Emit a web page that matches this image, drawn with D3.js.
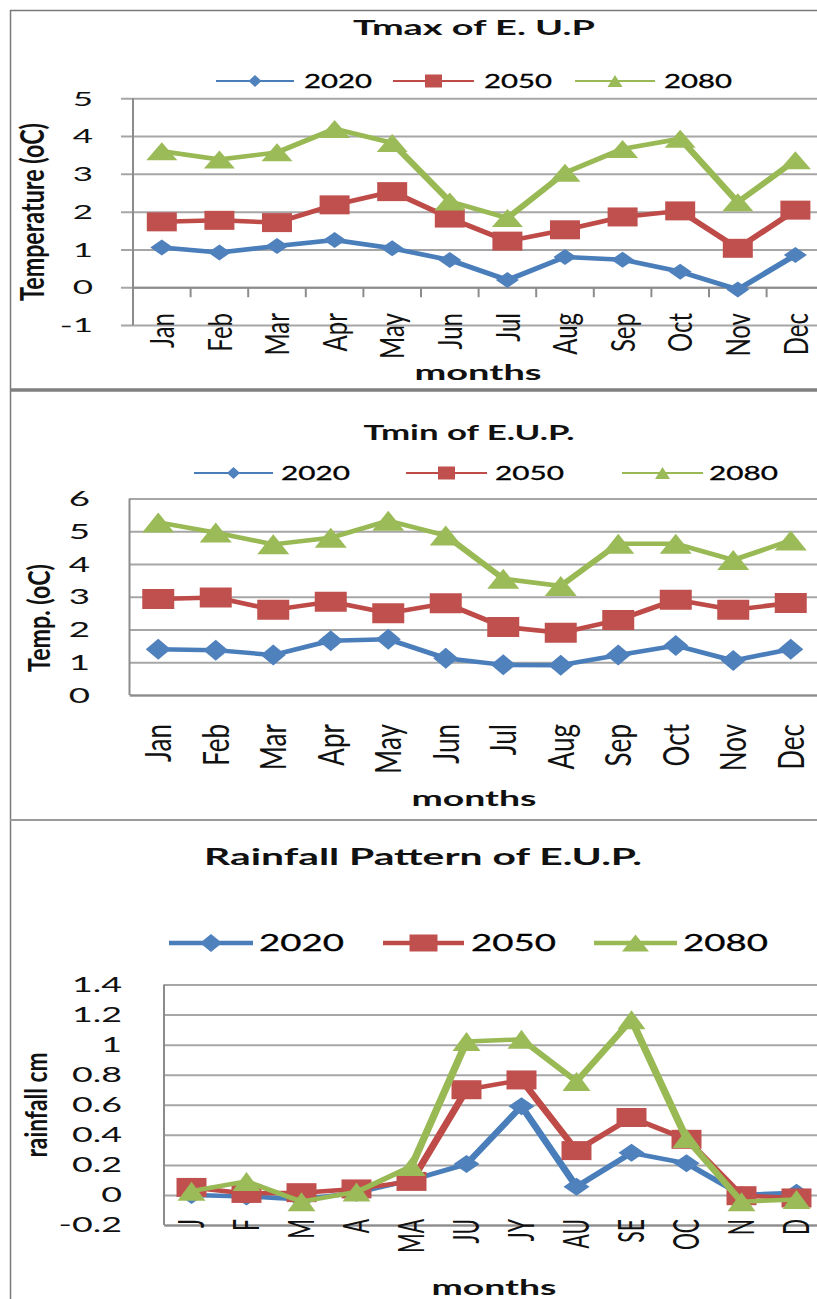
<!DOCTYPE html>
<html><head><meta charset="utf-8">
<script src="https://cdn.jsdelivr.net/npm/d3@7"></script>
<style>html,body{margin:0;padding:0;background:#fff;}svg{display:block;}</style>
</head><body>
<svg id="c" width="817" height="1299"></svg>
<script>
// ---------- DATA ----------
const months = ["Jan","Feb","Mar","Apr","May","Jun","Jul","Aug","Sep","Oct","Nov","Dec"];
const rainMonths = ["J","F","M","A","MA","JU","JY","AU","SE","OC","N","D"];
const seriesNames = ["2020","2050","2080"];

const tmax2020 = [1.05, 0.92, 1.09, 1.25, 1.03, 0.72, 0.19, 0.80, 0.73, 0.41, -0.06, 0.85];
const tmax2050 = [1.73, 1.77, 1.71, 2.18, 2.53, 1.83, 1.22, 1.52, 1.86, 2.02, 1.03, 2.04];
const tmax2080 = [3.60, 3.38, 3.57, 4.19, 3.82, 2.27, 1.83, 3.03, 3.66, 3.93, 2.25, 3.36];

const tmin2020 = [1.40, 1.37, 1.22, 1.66, 1.70, 1.12, 0.92, 0.91, 1.22, 1.51, 1.05, 1.40];
const tmin2050 = [2.93, 2.98, 2.60, 2.85, 2.50, 2.80, 2.08, 1.90, 2.29, 2.91, 2.60, 2.81];
const tmin2080 = [5.27, 4.96, 4.60, 4.80, 5.32, 4.87, 3.55, 3.33, 4.62, 4.62, 4.12, 4.72];

const rain2020 = [0.00, -0.01, -0.03, 0.015, 0.10, 0.205, 0.59, 0.055, 0.28, 0.21, 0.00, 0.015];
const rain2050 = [0.05, 0.01, 0.015, 0.04, 0.09, 0.70, 0.765, 0.295, 0.515, 0.37, -0.005, -0.02];
const rain2080 = [0.025, 0.09, -0.045, 0.02, 0.19, 1.02, 1.035, 0.755, 1.165, 0.375, -0.045, -0.03];

const tmaxTicks = [-1, 0, 1, 2, 3, 4, 5];
const tminTicks = [0, 1, 2, 3, 4, 5, 6];
const rainTicks = [-0.2, 0, 0.2, 0.4, 0.6, 0.8, 1, 1.2, 1.4];
const rainTickLabels = ["-0.2","0","0.2","0.4","0.6","0.8","1","1.2","1.4"];

// ---------- STYLE ----------
const FONT = "Lato, 'Open Sans', sans-serif";
const S = 1.7;                       // horizontal stretch of the original picture
const lineCol = ["#4A7EBB", "#BE4B48", "#98B954"];
const fillCol = ["#4F81BD", "#C0504D", "#9BBB59"];
const gridCol = "#a6a6a6";
const axisCol = "#8c8c8c";

const svg = d3.select("#c");

function T(parent, str, o) {
  const t = parent.append("text").text(str)
    .attr("font-family", FONT)
    .attr("font-size", o.size)
    .attr("font-weight", o.bold ? 700 : 400)
    .attr("fill", o.fill || "#111")
    .attr("text-anchor", o.anchor || "start");
  if (o.dy) t.attr("dy", o.dy);
  let size = o.size, sx = o.sx || 1;
  if (o.len) { // rotated: fit length along text
    const L = t.node().getComputedTextLength();
    size = o.size * o.len / L; t.attr("font-size", size);
  }
  if (o.w) {
    const L = t.node().getComputedTextLength();
    sx = o.w / L;
  }
  t.attr("transform", `translate(${o.x},${o.y}) scale(${sx},1)` + (o.rot ? " rotate(-90)" : ""));
  return t;
}

function markerPath(type, w, h) {
  // w,h in screen pixels; drawn inside the stretched group -> divide w by S
  const hw = w / 2 / S, hh = h / 2;
  if (type === 0) return `M0,${-hh}L${hw},0L0,${hh}L${-hw},0Z`;
  if (type === 1) return `M${-hw},${-hh}H${hw}V${hh}H${-hw}Z`;
  return `M0,${-hh}L${hw},${hh}L${-hw},${hh}Z`;
}

function panel(cfg) {
  const g = svg.append("g");
  const x = d3.scaleBand().domain(cfg.cats).range([cfg.x0, cfg.x0 + 12 * cfg.band]);
  const xs = x.copy().range([cfg.x0 / S, (cfg.x0 + 12 * cfg.band) / S]);
  const y = d3.scaleLinear().domain(cfg.domain).range([cfg.bottom, cfg.top]);

  // gridlines via axis
  const grid = g.append("g").attr("transform", `translate(${cfg.x0},0)`)
    .call(d3.axisLeft(y).tickValues(cfg.ticks).tickSize(-(830 - cfg.x0)).tickFormat(""));
  grid.select(".domain").remove();
  grid.selectAll(".tick line").attr("stroke", gridCol).attr("stroke-width", 2)
    .attr("x1", -(cfg.yTickOut || 0));

  // y axis line
  g.append("line").attr("x1", cfg.x0).attr("x2", cfg.x0)
    .attr("y1", y(cfg.domain[1])).attr("y2", y(cfg.domain[0]))
    .attr("stroke", axisCol).attr("stroke-width", 2);

  // category axis
  const ya = y(cfg.cross);
  const xa = g.append("g").attr("transform", `translate(0,${ya})`)
    .call(d3.axisBottom(x).tickSize(0).tickFormat(""));
  xa.select(".domain").attr("stroke", axisCol).attr("stroke-width", 2);
  if (cfg.xTicks) {
    g.selectAll(".xtick").data(cfg.cats.slice(1)).join("line")
      .attr("x1", d => x(d)).attr("x2", d => x(d))
      .attr("y1", ya).attr("y2", ya + 10)
      .attr("stroke", axisCol).attr("stroke-width", 2);
  }

  // y tick labels
  cfg.ticks.forEach((v, i) => {
    T(g, cfg.tickLabels ? cfg.tickLabels[i] : String(v), {
      x: cfg.yLabRight, y: y(v), size: cfg.yLabSize, sx: cfg.yLabSx, anchor: "end", dy: "0.36em"
    });
  });

  // x labels (rotated)
  const probe = g.append("text").text(cfg.probe.t).attr("font-family", FONT).attr("font-size", 20);
  const labSize = 20 * cfg.probe.len / probe.node().getComputedTextLength();
  probe.remove();
  cfg.cats.forEach(c => {
    T(g, c, { x: x(c) + x.bandwidth() / 2, y: cfg.xLabTop, size: labSize, sx: cfg.xLabSx,
      anchor: "end", rot: true, dy: "0.36em" });
  });

  // axis titles
  T(g, cfg.title, { x: cfg.titleX, y: cfg.titleY, size: cfg.titleSize, bold: true, anchor: "middle", w: cfg.titleW });
  T(g, "months", { x: cfg.monthsX, y: cfg.monthsY, size: 21, bold: true, anchor: "middle", w: cfg.monthsW });
  T(g, cfg.yTitle, { x: cfg.yTitleX, y: cfg.yTitleY, size: 20, bold: true, anchor: "middle", rot: true,
    len: cfg.yTitleLen, sx: cfg.yTitleSx, dy: "0.36em" });

  // series (stretched group)
  const sg = g.append("g").attr("transform", `scale(${S},1)`);
  const line = d3.line().x((d, i) => xs(cfg.cats[i]) + xs.bandwidth() / 2).y(d => y(d));
  cfg.series.forEach((vals, si) => {
    sg.append("path").datum(vals).attr("d", line).attr("fill", "none")
      .attr("stroke", lineCol[si]).attr("stroke-width", 4.5).attr("stroke-linejoin", "round");
    const m = cfg.markers[si];
    sg.selectAll(null).data(vals).join("path")
      .attr("d", markerPath(si, m[0], m[1]))
      .attr("transform", (d, i) => `translate(${xs(cfg.cats[i]) + xs.bandwidth() / 2},${y(d)})`)
      .attr("fill", fillCol[si]);
  });

  // legend
  const lg = g.append("g");
  seriesNames.forEach((nm, si) => {
    const L = cfg.legend[si];
    lg.append("line").attr("x1", L[0]).attr("x2", L[1]).attr("y1", cfg.legY).attr("y2", cfg.legY)
      .attr("stroke", lineCol[si]).attr("stroke-width", cfg.legLW);
    const lm = lg.append("g").attr("transform", `translate(${(L[0] + L[1]) / 2},${cfg.legY}) scale(${S},1)`);
    lm.append("path").attr("d", markerPath(si, cfg.legMarkers[si][0], cfg.legMarkers[si][1])).attr("fill", fillCol[si]);
    T(lg, nm, { x: L[2], y: cfg.legY, size: cfg.legSize, anchor: "start", dy: "0.36em", w: cfg.legW,
      fill: "#000" }).attr("stroke", "#000").attr("stroke-width", 0.3);
  });
}

// ---------- FRAME ----------
svg.append("line").attr("x1", 10.5).attr("x2", 10.5).attr("y1", 10).attr("y2", 1299).attr("stroke", "#7a7a7a").attr("stroke-width", 1.5);
svg.append("line").attr("x1", 10).attr("x2", 817).attr("y1", 10.5).attr("y2", 10.5).attr("stroke", "#7a7a7a").attr("stroke-width", 1.5);
svg.append("line").attr("x1", 10).attr("x2", 817).attr("y1", 390).attr("y2", 390).attr("stroke", "#7f7f7f").attr("stroke-width", 3.5);
svg.append("line").attr("x1", 10).attr("x2", 817).attr("y1", 820).attr("y2", 820).attr("stroke", "#9a9a9a").attr("stroke-width", 2);

// ---------- PANELS ----------
panel({
  cats: months, series: [tmax2020, tmax2050, tmax2080],
  x0: 133, band: 57.6, domain: [-1, 5], bottom: 325, top: 98.3, cross: 0,
  ticks: tmaxTicks, yTickOut: 12, xTicks: true,
  yLabRight: 93, yLabSize: 20, yLabSx: 1.75,
  probe: { t: "Jan", len: 35 }, xLabTop: 313, xLabSx: 1.4,
  title: "Tmax of E. U.P", titleX: 474, titleY: 35, titleSize: 21, titleW: 242,
  monthsX: 478, monthsY: 380, monthsW: 127,
  yTitle: "Temperature (oC)", yTitleX: 33, yTitleY: 212, yTitleLen: 178, yTitleSx: 1.35,
  markers: [[23, 16], [30, 19], [31, 18]],
  legend: [[216, 294, 304], [393, 474, 484], [575, 655, 664]], legY: 81, legLW: 2,
  legMarkers: [[13, 12], [17, 13], [15, 12]], legSize: 19.5, legW: 68
});

panel({
  cats: months, series: [tmin2020, tmin2050, tmin2080],
  x0: 129.5, band: 57.5, domain: [0, 6], bottom: 695, top: 498.5, cross: 0,
  ticks: tminTicks, yTickOut: 0, xTicks: false,
  yLabRight: 90, yLabSize: 21, yLabSx: 1.75,
  probe: { t: "Jan", len: 38 }, xLabTop: 724, xLabSx: 1.4,
  title: "Tmin of E.U.P.", titleX: 469, titleY: 440, titleSize: 21, titleW: 211,
  monthsX: 474, monthsY: 806, monthsW: 125,
  yTitle: "Temp. (oC)", yTitleX: 39, yTitleY: 618, yTitleLen: 108, yTitleSx: 1.35,
  markers: [[25, 21], [32, 20], [32, 20]],
  legend: [[194, 273, 281], [406, 487, 495], [622, 703, 709]], legY: 473, legLW: 2,
  legMarkers: [[13, 12], [17, 13], [15, 12]], legSize: 19.5, legW: 69
});

panel({
  cats: rainMonths, series: [rain2020, rain2050, rain2080],
  x0: 164, band: 55, domain: [-0.2, 1.4], bottom: 1225, top: 984.5, cross: -0.2,
  ticks: rainTicks, tickLabels: rainTickLabels, yTickOut: 0, xTicks: false,
  yLabRight: 122, yLabSize: 20.5, yLabSx: 1.75,
  probe: { t: "MA", len: 34 }, xLabTop: 1219, xLabSx: 1.7,
  title: "Rainfall Pattern of E.U.P.", titleX: 423, titleY: 865, titleSize: 22, titleW: 438,
  monthsX: 494, monthsY: 1295, monthsW: 125,
  yTitle: "rainfall cm", yTitleX: 36, yTitleY: 1105, yTitleLen: 105, yTitleSx: 1.35,
  markers: [[26, 18], [30, 19], [28, 19]],
  legend: [[169, 253, 259], [383, 464, 471], [594, 677, 683]], legY: 943, legLW: 4.5,
  legMarkers: [[22, 18], [28, 17], [27, 17]], legSize: 23, legW: 85
});
</script>
</body></html>
